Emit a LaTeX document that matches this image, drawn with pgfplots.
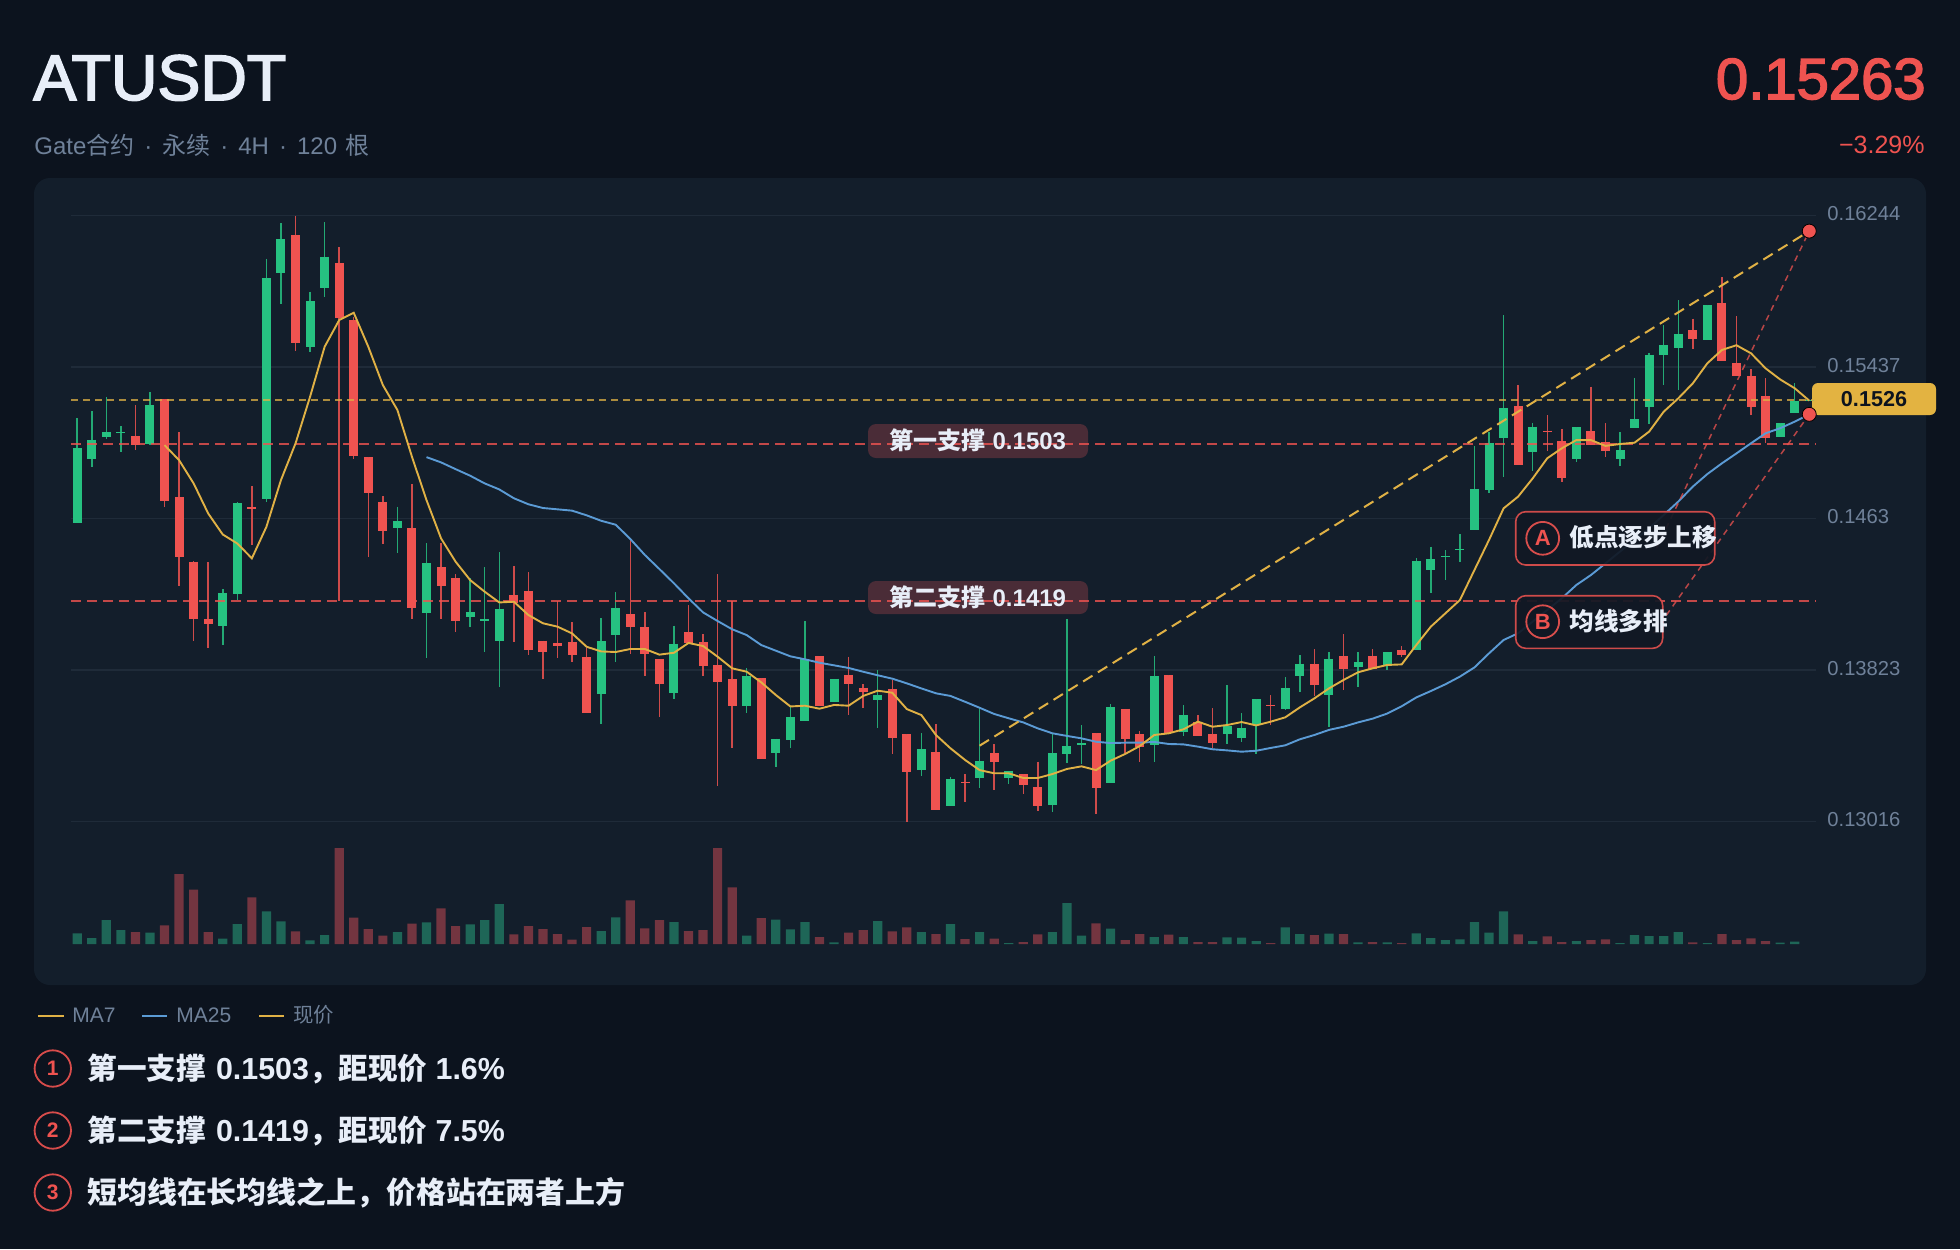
\documentclass[border=0pt]{standalone}
\usepackage{fontspec}
\setmainfont{Liberation Sans}
\newfontfamily\cjk{Noto Sans CJK SC}
\newfontfamily\medfont{Liberation Sans}[FakeBold=2.6]
\usepackage{pgfplots}
\usepackage{pgfplotstable}
\pgfplotsset{compat=1.18}
\usetikzlibrary{calc}
\definecolor{bgc}{HTML}{0C131E}
\definecolor{cardc}{HTML}{131E2B}
\definecolor{upc}{HTML}{26C281}
\definecolor{downc}{HTML}{EF5350}
\definecolor{volup}{HTML}{1E6657}
\definecolor{voldown}{HTML}{733540}
\definecolor{ma7c}{HTML}{E0B145}
\definecolor{ma25c}{HTML}{5B9BD5}
\definecolor{gridc}{HTML}{1F2B39}
\definecolor{mutedc}{HTML}{6F8199}
\definecolor{lightc}{HTML}{E8EEF8}
\definecolor{tagc}{HTML}{E3B341}
\definecolor{supc}{HTML}{4A2C37}
\definecolor{noteb}{HTML}{111824}
\newcommand\fs[1]{\fontsize{#1}{#1}\selectfont}
\newcommand\zh[1]{{\cjk #1}}
\pgfplotsset{candle/.style={only marks,mark=*,mark size=0pt,mark options={draw=none,fill=none},forget plot}}

% candles: index open high low close
\pgfplotstableread{
i o h l c
0 0.14605 0.15164 0.14605 0.15005
1 0.14948 0.15203 0.14907 0.15051
2 0.15063 0.15280 0.15054 0.15092
3 0.15085 0.15122 0.14983 0.15092
5 0.15026 0.15303 0.15022 0.15234
10 0.14058 0.14255 0.13960 0.14232
11 0.14230 0.14717 0.14197 0.14712
13 0.14735 0.16015 0.14720 0.15912
14 0.15937 0.16203 0.15775 0.16121
16 0.15546 0.15839 0.15520 0.15788
17 0.15859 0.16209 0.15809 0.16026
22 0.14580 0.14694 0.14445 0.14616
24 0.14126 0.14500 0.13886 0.14394
27 0.14108 0.14312 0.14051 0.14131
28 0.14085 0.14371 0.13918 0.14096
29 0.13980 0.14451 0.13732 0.14151
36 0.13694 0.14101 0.13538 0.13977
37 0.14010 0.14238 0.13867 0.14154
41 0.13700 0.14060 0.13671 0.13964
46 0.13634 0.13833 0.13595 0.13790
48 0.13380 0.13458 0.13306 0.13458
49 0.13451 0.13629 0.13408 0.13575
50 0.13554 0.14083 0.13554 0.13881
52 0.13654 0.13778 0.13654 0.13778
55 0.13664 0.13824 0.13517 0.13689
58 0.13290 0.13487 0.13261 0.13403
60 0.13102 0.13256 0.13102 0.13242
62 0.13247 0.13615 0.13197 0.13339
64 0.13251 0.13288 0.13217 0.13288
67 0.13103 0.13487 0.13070 0.13380
68 0.13378 0.14096 0.13331 0.13419
69 0.13423 0.13529 0.13322 0.13434
71 0.13224 0.13641 0.13224 0.13625
74 0.13423 0.13899 0.13334 0.13790
76 0.13496 0.13636 0.13473 0.13584
79 0.13485 0.13744 0.13430 0.13526
80 0.13462 0.13593 0.13442 0.13517
81 0.13531 0.13668 0.13375 0.13668
83 0.13615 0.13785 0.13611 0.13728
84 0.13790 0.13902 0.13709 0.13858
86 0.13691 0.13918 0.13519 0.13881
88 0.13842 0.13918 0.13735 0.13867
90 0.13846 0.13922 0.13824 0.13922
92 0.13931 0.14419 0.13931 0.14405
93 0.14359 0.14481 0.14233 0.14414
94 0.14424 0.14463 0.14304 0.14432
95 0.14462 0.14547 0.14401 0.14469
96 0.14572 0.15018 0.14572 0.14790
97 0.14781 0.15094 0.14765 0.15033
98 0.15060 0.15713 0.14854 0.15220
100 0.14987 0.15142 0.14884 0.15120
103 0.14946 0.15117 0.14934 0.15117
106 0.14950 0.15090 0.14913 0.14996
107 0.15113 0.15381 0.15113 0.15159
108 0.15223 0.15515 0.15135 0.15504
109 0.15502 0.15660 0.15344 0.15554
110 0.15541 0.15793 0.15318 0.15616
112 0.15584 0.15767 0.15584 0.15767
117 0.15065 0.15138 0.15065 0.15138
118 0.15191 0.15354 0.15191 0.15259
119 0.15255 0.15263 0.15255 0.15263
}\upcandles
\pgfplotstableread{
i o h l c
4 0.15070 0.15234 0.14996 0.15022
6 0.15266 0.15266 0.14694 0.14726
7 0.14745 0.15093 0.14273 0.14424
8 0.14401 0.14406 0.13980 0.14097
9 0.14097 0.14397 0.13943 0.14069
12 0.14694 0.14804 0.14491 0.14680
15 0.16141 0.16244 0.15525 0.15564
18 0.15990 0.16075 0.14191 0.15701
19 0.15688 0.15702 0.14950 0.14964
20 0.14957 0.14957 0.14427 0.14768
21 0.14720 0.14751 0.14493 0.14562
23 0.14578 0.14815 0.14097 0.14152
25 0.14371 0.14500 0.14097 0.14273
26 0.14312 0.14333 0.14028 0.14085
30 0.14222 0.14376 0.13975 0.14183
31 0.14245 0.14344 0.13906 0.13931
32 0.13980 0.13980 0.13778 0.13918
33 0.13968 0.14192 0.13886 0.13954
34 0.13971 0.14078 0.13868 0.13902
35 0.13891 0.13939 0.13593 0.13597
38 0.14122 0.14516 0.13909 0.14055
39 0.14053 0.14131 0.13794 0.13909
40 0.13883 0.13883 0.13572 0.13749
42 0.14025 0.14168 0.13966 0.13966
43 0.13973 0.14016 0.13794 0.13845
44 0.13851 0.14334 0.13208 0.13760
45 0.13776 0.14192 0.13410 0.13634
47 0.13780 0.13780 0.13352 0.13352
51 0.13899 0.13899 0.13634 0.13634
53 0.13799 0.13895 0.13586 0.13749
54 0.13730 0.13749 0.13622 0.13709
56 0.13721 0.13771 0.13377 0.13464
57 0.13483 0.13483 0.13016 0.13282
59 0.13386 0.13537 0.13078 0.13078
61 0.13229 0.13270 0.13123 0.13226
63 0.13382 0.13428 0.13185 0.13334
65 0.13270 0.13270 0.13164 0.13212
66 0.13199 0.13336 0.13075 0.13102
70 0.13487 0.13487 0.13057 0.13196
72 0.13618 0.13618 0.13384 0.13458
73 0.13481 0.13499 0.13334 0.13416
75 0.13796 0.13796 0.13487 0.13487
77 0.13549 0.13583 0.13473 0.13473
78 0.13483 0.13620 0.13407 0.13434
82 0.13639 0.13689 0.13531 0.13634
85 0.13856 0.13934 0.13686 0.13746
87 0.13899 0.14016 0.13718 0.13828
89 0.13901 0.13936 0.13830 0.13830
91 0.13929 0.13952 0.13895 0.13902
99 0.15231 0.15341 0.14918 0.14918
101 0.15099 0.15183 0.14993 0.15092
102 0.15042 0.15108 0.14827 0.14845
104 0.15097 0.15333 0.15025 0.15025
105 0.15041 0.15138 0.14961 0.14989
111 0.15634 0.15696 0.15536 0.15589
113 0.15781 0.15916 0.15468 0.15468
114 0.15460 0.15710 0.15389 0.15389
115 0.15389 0.15428 0.15183 0.15227
116 0.15284 0.15378 0.15032 0.15058
}\downcandles

\pgfplotstableread{
i v
6 0.15022
7 0.14942
8 0.14818
9 0.14658
10 0.14546
11 0.14498
12 0.14419
13 0.14587
14 0.14836
15 0.15031
16 0.15280
17 0.15546
18 0.15688
19 0.15727
20 0.15546
21 0.15342
22 0.15209
23 0.14960
24 0.14729
25 0.14525
26 0.14401
27 0.14303
28 0.14241
29 0.14184
30 0.14188
31 0.14117
32 0.14073
33 0.14055
34 0.14019
35 0.13948
36 0.13923
37 0.13920
38 0.13936
39 0.13936
40 0.13906
41 0.13916
42 0.13968
43 0.13952
44 0.13895
45 0.13833
46 0.13815
47 0.13758
48 0.13691
49 0.13630
50 0.13634
51 0.13618
52 0.13638
53 0.13634
54 0.13686
55 0.13714
56 0.13703
57 0.13616
58 0.13584
59 0.13478
60 0.13407
61 0.13345
62 0.13291
63 0.13274
64 0.13274
65 0.13249
66 0.13249
67 0.13270
68 0.13297
69 0.13311
70 0.13291
71 0.13341
72 0.13377
73 0.13419
74 0.13478
75 0.13487
76 0.13508
77 0.13549
78 0.13522
79 0.13531
80 0.13547
81 0.13529
82 0.13549
83 0.13572
84 0.13625
85 0.13673
86 0.13726
87 0.13771
88 0.13812
89 0.13833
90 0.13851
91 0.13854
92 0.13957
93 0.14055
94 0.14126
95 0.14197
96 0.14357
97 0.14517
98 0.14685
99 0.14748
100 0.14845
101 0.14952
102 0.15005
103 0.15049
104 0.15049
105 0.15018
106 0.15028
107 0.15035
108 0.15094
109 0.15200
110 0.15271
111 0.15351
112 0.15458
113 0.15529
114 0.15554
115 0.15511
116 0.15431
117 0.15372
118 0.15325
119 0.15259
}\mafast
\pgfplotstableread{
i v
24 0.14958
25 0.14930
26 0.14894
27 0.14859
28 0.14818
29 0.14786
30 0.14739
31 0.14707
32 0.14687
33 0.14680
34 0.14673
35 0.14648
36 0.14619
37 0.14598
38 0.14522
39 0.14437
40 0.14362
41 0.14286
42 0.14206
43 0.14131
44 0.14085
45 0.14041
46 0.14010
47 0.13957
48 0.13927
49 0.13897
50 0.13881
51 0.13863
52 0.13849
53 0.13835
54 0.13815
55 0.13796
56 0.13778
57 0.13753
58 0.13726
59 0.13700
60 0.13686
61 0.13655
62 0.13623
63 0.13590
64 0.13567
65 0.13545
66 0.13513
67 0.13487
68 0.13473
69 0.13460
70 0.13442
71 0.13435
72 0.13437
73 0.13437
74 0.13441
75 0.13430
76 0.13428
77 0.13416
78 0.13402
79 0.13396
80 0.13389
81 0.13394
82 0.13409
83 0.13423
84 0.13455
85 0.13478
86 0.13505
87 0.13522
88 0.13545
89 0.13565
90 0.13592
91 0.13631
92 0.13678
93 0.13712
94 0.13748
95 0.13789
96 0.13838
97 0.13913
98 0.13984
99 0.14020
100 0.14082
101 0.14144
102 0.14206
103 0.14277
104 0.14330
105 0.14392
106 0.14455
107 0.14517
108 0.14579
109 0.14650
110 0.14721
111 0.14801
112 0.14868
113 0.14925
114 0.14978
115 0.15032
116 0.15085
117 0.15112
118 0.15147
119 0.15186
}\maslow

% volume, relative height
\pgfplotstableread{
i v
0 10.7
1 6
2 24
3 14
5 11.3
10 5.3
11 20
13 32.7
14 22.7
16 3.7
17 9
22 12
24 21.7
27 19.7
28 24
29 40
36 13
37 26.7
41 22
46 8.3
48 24.3
49 14.7
50 22
52 1.7
55 23
58 12
60 20
62 12
64 1
67 12
68 41
69 8.3
71 15.3
74 7
76 7
79 6.7
80 6.3
81 3
83 16.7
84 10
86 10.3
88 1.7
90 1.7
92 10.7
93 6
94 4
95 4.7
96 22
97 11.3
98 32.7
100 3
103 3
106 1
107 9
108 8
109 8
110 12
112 1
117 1.3
118 2.3
}\volup
\pgfplotstableread{
i v
4 12
6 18.7
7 70
8 54.3
9 12
12 46.7
15 12.7
18 96
19 26.3
20 15
21 8.3
23 20.3
25 35.7
26 18
30 9.7
31 18
32 15
33 10
34 4.3
35 17
38 43.7
39 15.7
40 24
42 13
43 14
44 96
45 56.7
47 26
51 7
53 11.3
54 14
56 12.7
57 16.7
59 10
61 5
63 5.3
65 2
66 9.7
70 20.7
72 4
73 10
75 9.3
77 2
78 2
82 1
85 9
87 10
89 2
91 1
99 9.7
101 7.7
102 2
104 4
105 4.7
111 1.7
113 10
114 4
115 5.7
116 3
}\voldown

\begin{document}
\begin{tikzpicture}
\useasboundingbox (0,0) rectangle (980pt,-624.5pt);
\begin{scope}[x=0.5pt,y=-0.5pt]
\fill[bgc] (0,0) rectangle (1960,1249);
\fill[cardc,rounded corners=8pt] (34,178) rectangle (1926,985);

% header
\node[anchor=base west,inner sep=0,text=lightc] at (33,100) {\fs{32.2}\medfont ATUSDT};
\node[anchor=base east,inner sep=0,text=downc] at (1926,99) {\fs{29}\medfont 0.15263};
\node[anchor=base west,inner sep=0,text=mutedc] at (34,154) {\fs{12}Gate\zh{合约}\hspace*{5pt}·\hspace*{5pt}\zh{永续}\hspace*{5pt}·\hspace*{5pt}4H\hspace*{5pt}·\hspace*{5pt}120\hspace*{4.2pt}\zh{根}};
\node[anchor=base east,inner sep=0,text=downc] at (1925,153) {\fs{12.5}−3.29\%};

% boxes under the lines
\fill[supc,rounded corners=4pt] (868,424) rectangle (1088,458);
\fill[supc,rounded corners=4pt] (868,581) rectangle (1088,614);
\fill[tagc,rounded corners=3pt] (1812,383) rectangle (1936,415);
\end{scope}

% volume
\begin{axis}[
  at={(35.5pt,-472pt)},anchor=south west,scale only axis,width=872.5pt,height=48pt,
  xmin=-0.426,xmax=119.465,ymin=0,ymax=96,hide axis,clip=false]
\addplot[ybar,bar width=4.6pt,bar shift=0pt,fill=volup,draw=none] table[x=i,y=v] {\volup};
\addplot[ybar,bar width=4.6pt,bar shift=0pt,fill=voldown,draw=none] table[x=i,y=v] {\voldown};
\end{axis}

% price
\begin{axis}[
  at={(35.5pt,-417.5pt)},anchor=south west,scale only axis,width=872.5pt,height=325pt,
  xmin=-0.426,xmax=119.465,ymin=0.129452,ymax=0.164075,
  clip=false,
  axis line style={draw=none},
  xtick=\empty,
  ytick={0.13016,0.13823,0.1463,0.15437,0.16244},
  yticklabels={0.13016,0.13823,0.1463,0.15437,0.16244},
  yticklabel pos=right,
  major tick length=0pt,
  ymajorgrids,
  grid style={gridc,line width=0.75pt},
  yticklabel style={anchor=west,text=mutedc,font=\fs{10.1},xshift=5.5pt,yshift=1pt,inner sep=0pt},
  scaled y ticks=false,
]
% candles
\addplot[candle,error bars/.cd,y dir=minus,y explicit,error mark=none,error bar style={line width=0.75pt,color=upc!85!cardc}]
  table[x=i,y=h,y error minus expr=\thisrow{h}-\thisrow{l}] {\upcandles};
\addplot[candle,error bars/.cd,y dir=minus,y explicit,error mark=none,error bar style={line width=0.75pt,color=downc!85!cardc}]
  table[x=i,y=h,y error minus expr=\thisrow{h}-\thisrow{l}] {\downcandles};
\addplot[candle,error bars/.cd,y dir=minus,y explicit,error mark=none,error bar style={line width=4.5pt,color=upc}]
  table[x=i,y=c,y error minus expr=\thisrow{c}-\thisrow{o}] {\upcandles};
\addplot[candle,error bars/.cd,y dir=minus,y explicit,error mark=none,error bar style={line width=4.5pt,color=downc}]
  table[x=i,y=o,y error minus expr=\thisrow{o}-\thisrow{c}] {\downcandles};
% level lines
\addplot[downc,line width=1pt,opacity=0.8,dash pattern=on 5pt off 3pt,forget plot] coordinates {(-0.426,0.1503) (119.4,0.1503)};
\addplot[downc,line width=1pt,opacity=0.8,dash pattern=on 5pt off 3pt,forget plot] coordinates {(-0.426,0.1419) (119.4,0.1419)};
\addplot[ma7c,line width=0.75pt,opacity=0.75,dash pattern=on 3.5pt off 2.5pt,forget plot] coordinates {(-0.426,0.15263) (119.4,0.15263)};
% averages
\addplot[ma25c,line width=0.95pt] table[x=i,y=v] {\maslow};
\addplot[ma7c,line width=0.95pt] table[x=i,y=v] {\mafast};
% trend lines
\addplot[ma7c,line width=1pt,dash pattern=on 5.5pt off 3.2pt,forget plot] coordinates {(62,0.13421) (119,0.16162)};
\addplot[downc,line width=0.75pt,opacity=0.75,dash pattern=on 3pt off 2.5pt,forget plot] coordinates {(108.5,0.14472) (119,0.16162)};
\addplot[downc,line width=0.75pt,opacity=0.75,dash pattern=on 3pt off 2.5pt,forget plot] coordinates {(108.3,0.14020) (119,0.15186)};
\addplot[only marks,mark=*,mark size=3.5pt,mark options={fill=downc,draw=none},forget plot] coordinates {(119,0.16162) (119,0.15186)};
\end{axis}

\begin{scope}[x=0.5pt,y=-0.5pt]
% support labels
\node[text=lightc,inner sep=0] at (978,440.5) {\fs{12}\bfseries\zh{第一支撑} 0.1503};
\node[text=lightc,inner sep=0] at (978,597.5) {\fs{12}\bfseries\zh{第二支撑} 0.1419};
\node[text=bgc,inner sep=0] at (1874,399) {\fs{10.8}\bfseries 0.1526};

% notes
\draw[draw=downc!85!cardc,line width=0.8pt,fill=noteb,fill opacity=0.93,rounded corners=5pt] (1515.7,511.7) rectangle (1714.7,565);
\draw[draw=downc!85!cardc,line width=0.8pt,fill=noteb,fill opacity=0.93,rounded corners=5pt] (1515.7,595.7) rectangle (1662.7,648.3);
\draw[downc!90!cardc,line width=0.9pt] (1542.7,538.3) circle (8.2pt);
\draw[downc!90!cardc,line width=0.9pt] (1542.7,621.7) circle (8.2pt);
\node[text=downc,inner sep=0] at (1542.7,538.3) {\fs{11}\bfseries A};
\node[text=downc,inner sep=0] at (1542.7,621.7) {\fs{11}\bfseries B};
\node[anchor=west,text=lightc,inner sep=0] at (1569,537.5) {\fs{12.3}\bfseries\zh{低点逐步上移}};
\node[anchor=west,text=lightc,inner sep=0] at (1569,621) {\fs{12.3}\bfseries\zh{均线多排}};

% legend
\draw[ma7c,line width=1.3pt] (38,1016) -- (64,1016);
\node[anchor=west,text=mutedc,inner sep=0] at (72,1015) {\fs{10.5}MA7};
\draw[ma25c,line width=1.3pt] (142,1016) -- (167,1016);
\node[anchor=west,text=mutedc,inner sep=0] at (176,1015) {\fs{10.5}MA25};
\draw[ma7c,line width=1.3pt] (259,1016) -- (284,1016);
\node[anchor=west,text=mutedc,inner sep=0] at (293,1015) {\fs{10.2}\zh{现价}};

% bullets
\foreach \yy/\nn in {1068.5/1,1130.5/2,1192.5/3}{
  \draw[downc!90!bgc,line width=0.9pt] (52.8,\yy) circle (9.1pt);
  \node[text=downc,inner sep=0] at (52.8,\yy) {\fs{10.5}\bfseries\nn};
}
\node[anchor=base west,text=lightc,inner sep=0] at (87,1079) {\fs{14.8}\bfseries\zh{第一支撑} \hspace*{1pt}{\fs{15.2}0.1503}\zh{，距现价} {\fs{15.2}1.6\%}};
\node[anchor=base west,text=lightc,inner sep=0] at (87,1141) {\fs{14.8}\bfseries\zh{第二支撑} \hspace*{1pt}{\fs{15.2}0.1419}\zh{，距现价} {\fs{15.2}7.5\%}};
\node[anchor=base west,text=lightc,inner sep=0] at (87,1203) {\fs{14.95}\bfseries\zh{短均线在长均线之上，价格站在两者上方}};
\end{scope}
\end{tikzpicture}
\end{document}
